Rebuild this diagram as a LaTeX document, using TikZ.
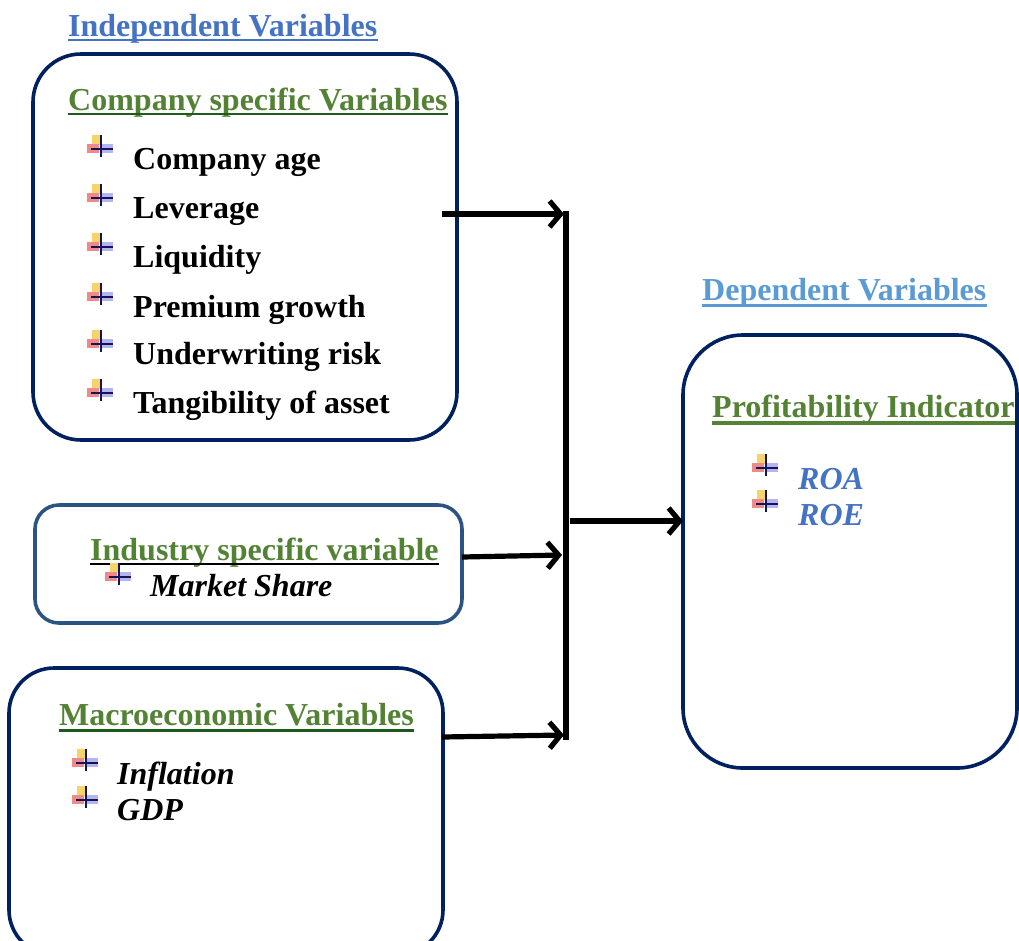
\documentclass[tikz,border=0pt]{standalone}
\usepackage{fontspec}
\setmainfont{Liberation Serif}
\usetikzlibrary{arrows.meta}
\definecolor{navy}{HTML}{002060}
\definecolor{steel}{HTML}{2A5582}
\definecolor{grn}{HTML}{548235}
\definecolor{dkgrn}{HTML}{1E5A1E}
\definecolor{indblue}{HTML}{4472C4}
\definecolor{depblue}{HTML}{5B9BD5}
\definecolor{bulY}{HTML}{F6D46A}
\definecolor{bulR}{HTML}{EE8A8A}
\definecolor{bulB}{HTML}{B4B4EE}
\definecolor{bulP}{HTML}{14145A}
\begin{document}
\begin{tikzpicture}[x=1pt,y=-1pt,
  box/.style={draw=navy, line width=3.6pt, rounded corners=#1, inner sep=0pt, outer sep=0pt},
  box/.default=40pt,
  txt/.style={anchor=base west, inner sep=0pt, font=\fontsize{32}{38}\selectfont\bfseries},
  itx/.style={anchor=base west, inner sep=0pt, font=\fontsize{32}{38}\selectfont\bfseries\itshape},
  conn/.style={line width=5.2pt, -{Straight Barb[length=11pt,width=26pt,line width=5.2pt]}},
  bus/.style={line width=5.2pt},
  bul/.pic={
    \fill[bulY] (5,0) rectangle (14,10);
    \fill[bulR] (0,9) rectangle (12,18);
    \fill[bulB] (14,9) rectangle (26,18);
    \draw[bulP, line width=2.2pt] (14,0) -- (14,22);
    \draw[bulP, line width=2.2pt] (4,14) -- (26,14);
  }
]
\useasboundingbox (0,0) rectangle (1019,940);
\clip (0,0) rectangle (1019,940);

% boxes
\node[box=48pt, minimum width=424pt, minimum height=386pt] (comp) at (245,247) {};
\node[box=24pt, draw=steel, minimum width=427pt, minimum height=118pt] (ind) at (248.5,564) {};
\node[box=45pt, minimum width=434pt, minimum height=287pt] (mac) at (226,811.5) {};
\node[box=60pt, minimum width=334pt, minimum height=433pt] (prof) at (850,551.5) {};

% headings
\node[txt, text=indblue] (indep) at (68,36) {Independent Variables};
\draw[indblue, line width=2pt] ([yshift=-4pt]indep.base west) -- ([yshift=-4pt]indep.base east);

\node[txt, text=grn] (compt) at (68,110) {Company specific Variables};
\draw[dkgrn, line width=2pt] ([yshift=-4pt]compt.base west) -- ([yshift=-4pt]compt.base east);

\node[txt] (c1) at (133,169) {Company age};
\node[txt] (c2) at (133,218) {Leverage};
\node[txt] (c3) at (133,267) {Liquidity};
\node[txt] (c4) at (133,317) {Premium growth};
\node[txt] (c5) at (133,364) {Underwriting risk};
\node[txt] (c6) at (133,413) {Tangibility of asset};
\foreach \b in {167,216,265,315,362,411}{
  \pic at (87,\b-32) {bul};
}

\node[txt, text=grn] (indt) at (90,560) {Industry specific variable};
\draw[black, line width=1.3pt] ([yshift=-4pt]indt.base west) -- ([yshift=-4pt]indt.base east);
\node[itx] (ms) at (150,596) {Market Share};
\pic at (105,563) {bul};

\node[txt, text=grn] (mact) at (59,725) {Macroeconomic Variables};
\draw[dkgrn, line width=3pt] ([yshift=-5pt]mact.base west) -- ([yshift=-5pt]mact.base east);
\node[itx] (inf) at (117,784) {Inflation};
\node[itx] (gdp) at (117,820) {GDP};
\pic at (72,749) {bul};
\pic at (72,786) {bul};

\node[txt, text=depblue] (dep) at (702,300) {Dependent Variables};
\draw[depblue, line width=3pt] ([yshift=-5pt]dep.base west) -- ([yshift=-5pt]dep.base east);

\node[txt, text=grn] (proft) at (712,417) {Profitability Indicator};
\draw[grn, line width=4pt] ([yshift=-6pt]proft.base west) -- ([yshift=-6pt]proft.base east);
\node[itx, text=indblue] (roa) at (798,489) {ROA};
\node[itx, text=indblue] (roe) at (798,525) {ROE};
\pic at (752,454) {bul};
\pic at (752,490) {bul};

% connectors
\coordinate (bt) at (566,211);
\coordinate (bb) at (566,740);
\coordinate (a1) at (442,214);
\coordinate (e1) at (564,214);
\coordinate (a2) at (462,557);
\coordinate (e2) at (562,555);
\coordinate (a3) at (442,737);
\coordinate (e3) at (564,735);
\coordinate (o1) at (570,521);

\draw[bus] (bt) -- (bb);
\draw[conn] (a1) -- (e1);
\draw[conn] (a2) -- (e2);
\draw[conn] (a3) -- (e3);
\draw[conn] (o1) -- (o1 -| prof.west);
\end{tikzpicture}
\end{document}
